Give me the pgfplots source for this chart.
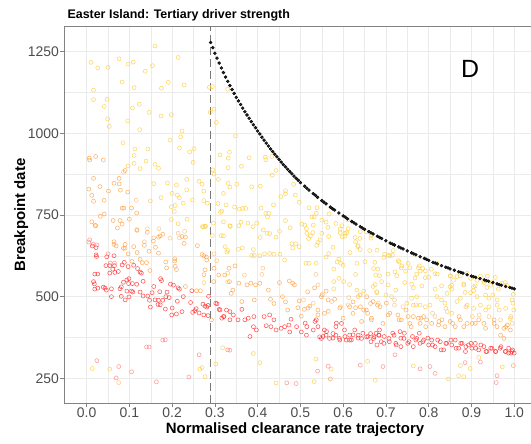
\documentclass[border=0pt]{standalone}
\usepackage{fontspec}
\setmainfont{Liberation Sans}
\usepackage{pgfplots}
\pgfplotsset{compat=1.18}
\definecolor{gridc}{RGB}{235,235,235}
\definecolor{axc}{RGB}{130,130,130}
\definecolor{dashc}{RGB}{120,120,120}
\definecolor{tickc}{RGB}{77,77,77}
\definecolor{cred}{RGB}{255,45,45}
\definecolor{cpink}{RGB}{255,130,130}
\definecolor{corange}{RGB}{255,160,64}
\definecolor{ctan}{RGB}{255,190,120}
\definecolor{cyellow}{RGB}{255,205,60}
\pgfplotsset{pt/.style={only marks, mark=o, mark size=2bp, mark options={line width=0.55bp, draw=#1, draw opacity=0.8}}}
\begin{document}
\begin{tikzpicture}
\useasboundingbox (-64bp,-41bp) rectangle (467bp,403bp);
\begin{axis}[
 at={(0,0)}, anchor=south west, scale only axis, width=470bp, height=377bp,
 xmin=-0.053, xmax=1.0463, ymin=174.4, ymax=1328.4,
 xtick={0,0.1,0.2,0.3,0.4,0.5,0.6,0.7,0.8,0.9,1.0},
 xticklabels={0.0,0.1,0.2,0.3,0.4,0.5,0.6,0.7,0.8,0.9,1.0},
 ytick={250,500,750,1000,1250},
 yticklabels={250,500,750,1000,1250},
 minor xtick={0.05,0.15,0.25,0.35,0.45,0.55,0.65,0.75,0.85,0.95},
 minor ytick={375,625,875,1125},
 grid=both,
 major grid style={color=gridc, line width=0.6bp},
 minor grid style={color=gridc, line width=0.4bp},
 axis line style={color=axc, line width=0.8bp},
 tick style={color=axc, line width=0.8bp},
 tick align=outside, major tick length=4bp, minor tick length=0pt,
 xtick pos=bottom, ytick pos=left,
 ticklabel style={font=\fontsize{14}{14}\selectfont, text=tickc, inner sep=1bp},
 clip=true,
]
% yellow
\addplot[pt=cyellow] coordinates {
(0.16,1267) (0.01,1217) (0.026,1200) (0.05,1202) (0.076,1228) (0.097,1212) (0.109,1218) (0.137,1190) (0.154,1207) (0.214,1232)
(0.083,1157) (0.111,1140) (0.175,1138) (0.191,1156) (0.228,1148) (0.287,1141) (0.294,1143) (0.016,1132) (0.016,1103) (0.048,1104)
(0.041,1082) (0.107,1078) (0.123,1089) (0.146,1064) (0.174,1053) (0.198,1057) (0.289,1064) (0.298,1074) (0.303,1033) (0.049,1044)
(0.053,1021) (0.096,1038) (0.124,1011) (0.223,1007) (0.22,989) (0.195,979) (0.085,971) (0.113,952) (0.143,952) (0.217,955)
(0.251,953) (0.241,943) (0.111,932) (0.111,908) (0.125,892) (0.097,900) (0.139,915) (0.16,905) (0.168,893) (0.249,911)
(0.157,846) (0.189,848) (0.21,842) (0.2,816) (0.212,811) (0.234,859) (0.263,853) (0.27,844) (0.274,823) (0.234,827)
(0.174,803) (0.217,803) (0.226,786) (0.247,796) (0.274,794) (0.282,786) (0.198,775) (0.207,779) (0.205,761) (0.235,737)
(0.198,736) (0.214,723) (0.273,714) (0.278,715) (0.296,725) (0.32,729) (0.307,785) (0.313,758) (0.32,816) (0.331,847)
(0.312,934) (0.331,924) (0.295,888) (0.298,875) (0.308,859)
(0.33,1135) (0.348,992) (0.334,942) (0.331,895) (0.362,899) (0.38,925) (0.418,927) (0.419,919) (0.433,929) (0.443,886)
(0.434,872) (0.351,844) (0.335,835) (0.326,781) (0.316,762) (0.346,774) (0.357,768) (0.365,770) (0.372,770) (0.386,836)
(0.406,838) (0.408,771) (0.419,755) (0.426,755) (0.423,744) (0.437,781) (0.454,806) (0.465,824) (0.465,815) (0.488,811)
(0.484,844) (0.497,789) (0.465,733) (0.476,711) (0.503,722) (0.51,719) (0.52,772) (0.539,772) (0.537,755) (0.532,744)
(0.527,744) (0.53,719) (0.55,734) (0.567,753) (0.593,707) (0.361,728) (0.377,725) (0.389,714) (0.398,725) (0.336,715)
(0.315,687) (0.335,717) (0.356,717) (0.413,704) (0.406,681) (0.422,694) (0.428,693) (0.451,700) (0.443,682) (0.48,662)
(0.489,662) (0.515,694) (0.523,686) (0.546,674) (0.55,694) (0.56,728) (0.566,684) (0.583,724) (0.593,695) (0.604,685)
(0.604,694) (0.324,653) (0.328,636) (0.355,645) (0.364,649) (0.39,644) (0.392,626) (0.386,626) (0.405,625) (0.416,631)
(0.428,632) (0.438,630) (0.452,630) (0.463,612) (0.482,649) (0.497,653) (0.513,602) (0.52,602) (0.537,602) (0.538,657)
(0.56,621) (0.566,632) (0.586,606) (0.594,602) (0.632,602) (0.629,668) (0.634,653) (0.64,699) (0.654,699) (0.665,679)
(0.651,607) (0.679,642) (0.671,586) (0.676,566) (0.675,537) (0.679,512) (0.578,546) (0.578,524) (0.59,556) (0.601,546)
(0.615,537) (0.64,505) (0.648,517) (0.629,568) (0.632,520)
(0.514,708) (0.529,696) (0.519,678) (0.541,666) (0.564,712) (0.576,651) (0.597,717) (0.598,683) (0.608,696) (0.612,708)
(0.628,681) (0.639,678) (0.635,656) (0.64,644) (0.665,686) (0.662,641) (0.616,635) (0.6,596) (0.59,615) (0.578,584)
(0.697,630) (0.709,625) (0.717,641) (0.729,610) (0.737,594) (0.752,602) (0.772,569) (0.778,594) (0.792,579) (0.8,559)
(0.82,569) (0.851,564) (0.874,564) (0.882,539) (0.909,533) (0.929,543) (0.956,559) (0.979,543) (0.998,507) (0.681,584)
(0.674,605) (0.685,564) (0.705,569) (0.725,564) (0.744,543) (0.76,538) (0.784,533) (0.815,523) (0.83,533) (0.854,523)
(0.885,513) (0.905,518) (0.936,528) (0.963,523)
(0.695,620) (0.705,627) (0.715,627) (0.721,576) (0.723,520) (0.731,606) (0.736,588) (0.746,578) (0.756,588) (0.764,527)
(0.768,557) (0.776,588) (0.78,578) (0.786,586) (0.792,558) (0.806,584) (0.815,570) (0.819,602) (0.85,563) (0.854,535)
(0.858,550) (0.866,561) (0.882,535) (0.89,571) (0.898,556) (0.905,530) (0.913,550) (0.921,563) (0.929,548) (0.937,563)
(0.945,535) (0.949,545) (0.96,490) (0.972,541) (0.983,535) (0.995,490) (0.999,459) (0.997,480) (0.85,530) (0.843,510)
(0.898,512) (0.913,500) (0.933,505) (0.941,495) (0.874,495) (0.866,485) (0.89,474) (0.905,464) (0.921,474) (0.933,459)
(0.941,469) (0.96,474) (0.98,464) (0.991,433) (0.843,454) (0.854,449) (0.838,480) (0.819,500) (0.803,474) (0.792,469)
(0.78,474) (0.764,474) (0.749,480) (0.772,500) (0.705,536) (0.69,546) (0.678,515) (0.67,531) (0.713,500)
(0.013,280) (0.054,278) (0.265,278) (0.27,283) (0.277,255) (0.302,294) (0.318,344) (0.39,326) (0.405,298) (0.443,236)
(0.532,240) (0.536,309) (0.572,278) (0.657,302) (0.675,244) (0.764,288) (0.846,248) (0.874,289) (0.87,258) (0.882,255)
(0.897,280) (0.972,285) (0.917,314)
(0.274,543) (0.33,545) (0.33,572) (0.33,641) (0.32,686) (0.271,714) (0.277,716) (0.294,687)
(0.639,505) (0.7,505) (0.76,495) (0.83,490) (0.95,505)
};
% light orange
\addplot[pt=ctan] coordinates {
(0.075,237) (0.611,735) (0.086,881) (0.116,795) (0.149,793) (0.117,705) (0.169,708) (0.142,708) (0.135,668) (0.157,680)
(0.195,679) (0.214,694) (0.217,680) (0.229,700) (0.298,631) (0.304,610) (0.369,566) (0.41,568) (0.412,587) (0.536,568)
(0.541,536) (0.594,469) (0.613,497) (0.72,474) (0.74,469) (0.815,439) (0.902,439) (0.941,439) (0.968,429) (0.995,418)
(0.507,490) (0.53,480) (0.573,485) (0.612,475) (0.635,500) (0.682,480) (0.72,490) (0.77,475) (0.809,449) (0.84,464)
(0.887,469) (0.918,444) (0.965,459) (0.992,439)
};
% orange
\addplot[pt=corange] coordinates {
(0.006,924) (0.007,918) (0.021,929) (0.039,918) (0.09,886) (0.076,862) (0.016,862) (0.005,829) (0.031,837) (0.012,810)
(0.016,792) (0.051,823) (0.064,847) (0.076,845) (0.079,826) (0.096,820) (0.041,795) (0.083,771) (0.087,771) (0.105,771)
(0.117,756) (0.032,746) (0.041,753) (0.062,733) (0.078,733) (0.1,737) (0.012,729) (0.02,718) (0.072,710) (0.083,722)
(0.021,717) (0.064,660) (0.09,648) (0.097,631) (0.106,608) (0.118,703) (0.118,635) (0.135,657) (0.142,697) (0.146,639)
(0.125,614) (0.14,604) (0.13,604) (0.148,580) (0.156,670) (0.161,651) (0.168,682) (0.172,686) (0.178,691) (0.168,633)
(0.185,606) (0.187,588) (0.207,593) (0.21,583) (0.206,609) (0.206,616) (0.228,663) (0.223,684) (0.231,682) (0.231,531)
(0.257,518) (0.266,518) (0.259,656) (0.27,629) (0.274,625) (0.28,621) (0.274,567) (0.277,582) (0.281,612) (0.298,587)
(0.309,566) (0.297,546) (0.292,429) (0.064,668) (0.069,655) (0.09,660) (0.086,648) (0.11,653)
(0.323,566) (0.333,587) (0.347,594) (0.334,546) (0.342,520) (0.338,510) (0.356,541) (0.363,485) (0.375,536) (0.384,541)
(0.392,490) (0.395,536) (0.405,541) (0.425,520) (0.43,492) (0.438,479) (0.451,543) (0.458,500) (0.465,484) (0.47,459)
(0.474,548) (0.482,541) (0.486,536) (0.497,487) (0.502,440) (0.509,461) (0.517,515) (0.522,471) (0.533,527) (0.551,506)
(0.56,517) (0.565,490) (0.541,459) (0.556,449) (0.58,492) (0.615,469) (0.623,484) (0.629,466) (0.64,469) (0.648,459)
(0.657,449) (0.664,479) (0.666,429) (0.68,474) (0.655,500) (0.494,466)
(0.67,485) (0.686,469) (0.701,480) (0.709,449) (0.728,444) (0.736,429) (0.752,439) (0.756,418) (0.764,439) (0.776,434)
(0.78,418) (0.788,439) (0.795,429) (0.807,418) (0.823,413) (0.831,429) (0.838,408) (0.85,424) (0.862,408) (0.874,429)
(0.882,408) (0.89,418) (0.909,418) (0.917,429) (0.929,418) (0.953,418) (0.96,408) (0.976,403) (0.984,413) (0.991,398)
(0.976,372) (0.968,382) (0.998,289) (0.57,248)
(0.518,465) (0.541,444) (0.549,500) (0.565,455) (0.592,465) (0.6,434) (0.623,449) (0.643,424) (0.654,459) (0.666,434)
(0.693,418) (0.705,444) (0.731,429) (0.747,459) (0.759,408) (0.782,434) (0.793,408) (0.824,424) (0.856,418) (0.871,439)
(0.902,418) (0.933,403) (0.953,429) (0.98,408)
};
% pink
\addplot[pt=cpink] coordinates {
(0.005,667) (0.007,674) (0.015,661) (0.024,658) (0.05,631) (0.055,603) (0.065,603) (0.184,368) (0.178,367) (0.14,346)
(0.146,346) (0.024,304) (0.075,286) (0.105,270) (0.069,251) (0.163,239) (0.239,254) (0.263,322) (0.33,337) (0.335,336)
(0.468,236) (0.49,234) (0.54,272) (0.565,287) (0.64,290) (0.693,286) (0.721,322) (0.78,279) (0.803,286) (0.815,265)
(0.885,298) (0.921,300) (0.96,258) (0.958,237)
};
% red
\addplot[pt=cred] coordinates {
(0.013,655) (0.022,650) (0.022,628) (0.023,623) (0.047,622) (0.064,625) (0.083,597) (0.088,605) (0.045,595) (0.054,595)
(0.065,595) (0.061,584) (0.054,572) (0.066,574) (0.074,577) (0.019,569) (0.026,569) (0.016,546) (0.018,539) (0.019,523)
(0.039,529) (0.043,526) (0.026,526) (0.046,520) (0.058,524) (0.078,524) (0.081,530) (0.086,544) (0.094,551) (0.098,540)
(0.099,555) (0.107,540) (0.117,538) (0.132,547) (0.125,575) (0.128,572) (0.097,592) (0.11,596) (0.119,586) (0.105,517)
(0.108,514) (0.125,514) (0.094,517) (0.081,501) (0.058,500) (0.09,490) (0.099,499) (0.132,502) (0.143,502) (0.147,489)
(0.153,512) (0.149,468) (0.16,490) (0.168,489) (0.173,555) (0.175,549) (0.157,531) (0.171,515) (0.178,489) (0.188,514)
(0.185,500) (0.193,497) (0.196,538) (0.203,535) (0.214,527) (0.217,523) (0.212,486) (0.226,500) (0.167,476) (0.172,475)
(0.184,462) (0.2,465) (0.199,444) (0.21,447) (0.223,454) (0.246,518) (0.243,482) (0.253,457) (0.248,452) (0.256,463)
(0.263,450) (0.274,444) (0.277,471) (0.281,468) (0.284,473) (0.285,501) (0.272,477) (0.284,442) (0.302,480) (0.305,478)
(0.31,461) (0.32,439) (0.327,459)
(0.312,459) (0.316,434) (0.321,439) (0.335,454) (0.335,429) (0.343,444) (0.354,429) (0.363,461) (0.37,429) (0.378,434)
(0.382,378) (0.39,408) (0.391,439) (0.397,398) (0.415,439) (0.42,411) (0.431,408) (0.428,444) (0.438,429) (0.443,398)
(0.455,403) (0.463,408) (0.473,413) (0.475,392) (0.478,431) (0.491,408) (0.502,392) (0.514,382) (0.515,408) (0.53,398)
(0.537,429) (0.541,408) (0.545,377) (0.549,372) (0.556,398) (0.56,382) (0.568,372) (0.576,387) (0.583,408) (0.583,382)
(0.591,372) (0.596,418) (0.603,398) (0.607,367) (0.615,382) (0.619,367) (0.627,398) (0.635,382) (0.643,372) (0.655,377)
(0.664,387) (0.671,372) (0.679,352) (0.683,382)
(0.672,377) (0.684,382) (0.695,357) (0.707,372) (0.719,382) (0.723,357) (0.735,347) (0.742,372) (0.754,362) (0.764,347)
(0.772,372) (0.78,357) (0.788,367) (0.8,352) (0.807,367) (0.815,347) (0.827,362) (0.835,337) (0.842,357) (0.854,352)
(0.862,367) (0.87,342) (0.878,357) (0.886,332) (0.893,352) (0.901,342) (0.909,357) (0.917,337) (0.929,347) (0.936,332)
(0.948,342) (0.956,332) (0.967,342) (0.979,332) (0.987,342) (0.995,332) (1.0,327) (0.996,337) (0.987,327)
(0.511,419) (0.534,424) (0.553,378) (0.561,393) (0.576,373) (0.584,419) (0.592,367) (0.604,378) (0.615,367) (0.623,383)
(0.635,373) (0.646,388) (0.658,378) (0.665,362) (0.677,388) (0.689,362) (0.696,378) (0.708,362) (0.716,388) (0.724,352)
(0.735,373) (0.743,388) (0.751,357) (0.762,378) (0.77,367) (0.778,388) (0.786,362) (0.798,373) (0.809,352) (0.821,367)
(0.829,337) (0.84,357) (0.852,367) (0.864,342) (0.875,357) (0.887,347) (0.899,357) (0.91,342) (0.922,352) (0.934,332)
(0.945,342) (0.957,332) (0.969,347) (0.98,332) (0.992,327) (0.733,393) (0.685,398)
};
% black curve
\addplot[only marks, mark=*, mark size=1.5bp, mark options={draw=none, fill=black, fill opacity=0.85}] coordinates {
(0.290,1278) (0.295,1262) (0.300,1245) (0.305,1230) (0.310,1215) (0.315,1200) (0.320,1186) (0.325,1172) (0.330,1159) (0.335,1146)
(0.340,1134) (0.345,1122) (0.350,1110) (0.355,1099) (0.360,1088) (0.365,1077) (0.370,1066) (0.375,1056) (0.380,1046) (0.385,1036)
(0.390,1026) (0.395,1017) (0.400,1007) (0.405,998) (0.41,988) (0.415,979) (0.42,970) (0.425,961) (0.43,952) (0.435,944) (0.44,936)
(0.445,928) (0.45,920) (0.455,912) (0.46,904) (0.465,897) (0.47,890) (0.475,883) (0.48,876) (0.485,869) (0.49,862) (0.495,856)
(0.50,849) (0.51,838) (0.515,832) (0.52,826) (0.53,815) (0.535,810) (0.54,804) (0.55,794) (0.555,789) (0.56,784) (0.57,774)
(0.575,769) (0.58,765) (0.59,756) (0.60,747) (0.605,743) (0.61,738) (0.62,730) (0.625,726) (0.63,722) (0.64,714) (0.645,710)
(0.65,706) (0.66,699) (0.665,695) (0.67,692) (0.68,685) (0.685,681) (0.69,678) (0.70,671) (0.71,664) (0.715,661) (0.72,658)
(0.73,652) (0.735,649) (0.74,646) (0.75,640) (0.76,634) (0.765,631) (0.77,628) (0.78,622) (0.79,617) (0.795,614) (0.80,611)
(0.81,605) (0.815,603) (0.82,600) (0.83,595) (0.84,590) (0.845,588) (0.85,585) (0.86,581) (0.87,576) (0.875,574) (0.88,572)
(0.89,567) (0.90,563) (0.905,561) (0.91,559) (0.92,555) (0.93,551) (0.935,549) (0.94,547) (0.95,543) (0.96,539) (0.965,537)
(0.97,535) (0.98,531) (0.99,528) (0.995,526) (1.00,524)
};
\addplot[color=dashc, line width=1.5bp, dash pattern=on 8bp off 4bp] coordinates {(0.29,174.4) (0.29,1328.4)};
\end{axis}
\node[anchor=base west, font=\fontsize{12.5}{12.5}\selectfont\bfseries] at (0bp,384bp) {Easter Island: Tertiary driver strength};
\node[anchor=base, font=\fontsize{15}{15}\selectfont\bfseries] at (231bp,-30.5bp) {Normalised clearance rate trajectory};
\node[anchor=base, rotate=90, font=\fontsize{15}{15}\selectfont\bfseries] at (-39bp,188bp) {Breakpoint date};
\node[anchor=base, font=\fontsize{25}{25}\selectfont] at (406bp,325bp) {D};
\end{tikzpicture}
\end{document}
